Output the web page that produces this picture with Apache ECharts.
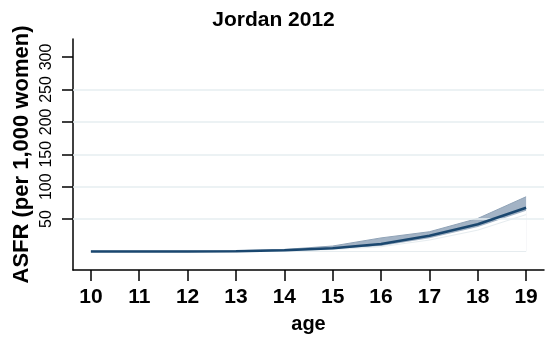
<!DOCTYPE html>
<html>
<head>
<meta charset="utf-8">
<script src="https://cdn.jsdelivr.net/npm/echarts@6/dist/echarts.min.js"></script>
<style>
  html, body { margin: 0; padding: 0; background: #fff; }
  #chart { width: 547px; height: 339px; }
</style>
</head>
<body>
<div id="chart"></div>
<script>
// Age-specific fertility rate, Jordan 2012 (births per 1,000 women)
const ages = [10, 11, 12, 13, 14, 15, 16, 17, 18, 19];
const asfr = [0.2, 0.2, 0.2, 0.6, 1.8, 5.2, 11.5, 24.3, 42, 67.5];
const upperCI = [0.6, 0.6, 0.6, 1.2, 3.2, 8.5, 21, 30.5, 51, 84.5];
const lowerCI = [0, 0, 0, 0.2, 1, 3.5, 8.5, 20.5, 38, 63];
const floorLine = [0, 0, 0, 0, 0.5, 3, 7.4, 17.7, 33, 57];
const yTicks = [50, 100, 150, 200, 250, 300];
const yGrid = [50, 100, 150, 200, 250];

const pairs = (vals) => ages.map((a, i) => [a, vals[i]]);
const font = 'Liberation Sans, Arial, sans-serif';

const chart = echarts.init(document.getElementById('chart'), null, { renderer: 'canvas' });
chart.setOption({
  animation: false,
  backgroundColor: '#ffffff',
  title: {
    text: 'Jordan 2012',
    left: 'center',
    top: 5,
    textStyle: { fontFamily: font, fontSize: 21, fontWeight: 'bold', color: '#000' }
  },
  grid: { left: 73, right: 3, top: 39, bottom: 69, outerBoundsMode: 'none', containLabel: false },
  xAxis: {
    type: 'value',
    min: 9.63,
    max: 19.37,
    name: 'age',
    nameLocation: 'middle',
    nameGap: 44,
    nameMoveOverlap: false,
    nameTextStyle: { fontFamily: font, fontSize: 20, fontWeight: 'bold', color: '#000' },
    axisLine: { show: true, onZero: false, lineStyle: { color: '#000', width: 1.5 } },
    axisTick: { show: true, length: 11, customValues: ages, lineStyle: { color: '#000', width: 1.5 } },
    axisLabel: {
      customValues: ages,
      margin: 17,
      fontFamily: font, fontSize: 21, fontWeight: 'bold', color: '#000'
    },
    splitLine: { show: false }
  },
  yAxis: {
    type: 'value',
    min: -28.5,
    max: 327.8,
    name: 'ASFR (per 1,000 women)',
    nameLocation: 'middle',
    nameGap: 40,
    nameMoveOverlap: false,
    nameTextStyle: { fontFamily: font, fontSize: 22, fontWeight: 'bold', color: '#000' },
    axisLine: { show: true, onZero: false, lineStyle: { color: '#000', width: 1.5 } },
    axisTick: { show: true, length: 11, customValues: yTicks, lineStyle: { color: '#000', width: 1.5 } },
    axisLabel: {
      customValues: yTicks,
      rotate: 90,
      margin: 18,
      fontFamily: font, fontSize: 16, color: '#000'
    },
    splitLine: { show: false }
  },
  series: [
    {
      // horizontal reference lines
      type: 'line',
      data: [],
      z: 1,
      silent: true,
      markLine: {
        silent: true,
        symbol: ['none', 'none'],
        label: { show: false },
        lineStyle: { color: '#e6eef1', width: 1.5, type: 'solid' },
        data: yGrid.map(v => ({ yAxis: v }))
      }
    },
    {
      // confidence band: filled up to the upper bound...
      type: 'line',
      data: pairs(upperCI),
      z: 2,
      showSymbol: false,
      silent: true,
      lineStyle: { color: '#90a3b7', width: 1 },
      areaStyle: { color: '#a3b3c5', opacity: 1, origin: 0 }
    },
    {
      // ...and cleared below the lower bound
      type: 'line',
      data: pairs(lowerCI),
      z: 3,
      showSymbol: false,
      silent: true,
      lineStyle: { width: 0, opacity: 0 },
      areaStyle: { color: '#ffffff', opacity: 1, origin: 0 }
    },
    {
      type: 'line',
      data: pairs(floorLine),
      z: 4,
      showSymbol: false,
      silent: true,
      lineStyle: { color: '#e6ecef', width: 1 }
    },
    {
      type: 'line',
      data: ages.map(a => [a, 0]),
      z: 4,
      showSymbol: false,
      silent: true,
      lineStyle: { color: '#e6ecef', width: 1 }
    },
    {
      type: 'line',
      data: pairs(asfr),
      z: 5,
      showSymbol: false,
      silent: true,
      lineStyle: { color: '#1a476f', width: 2.5 }
    }
  ]
});
</script>
</body>
</html>
